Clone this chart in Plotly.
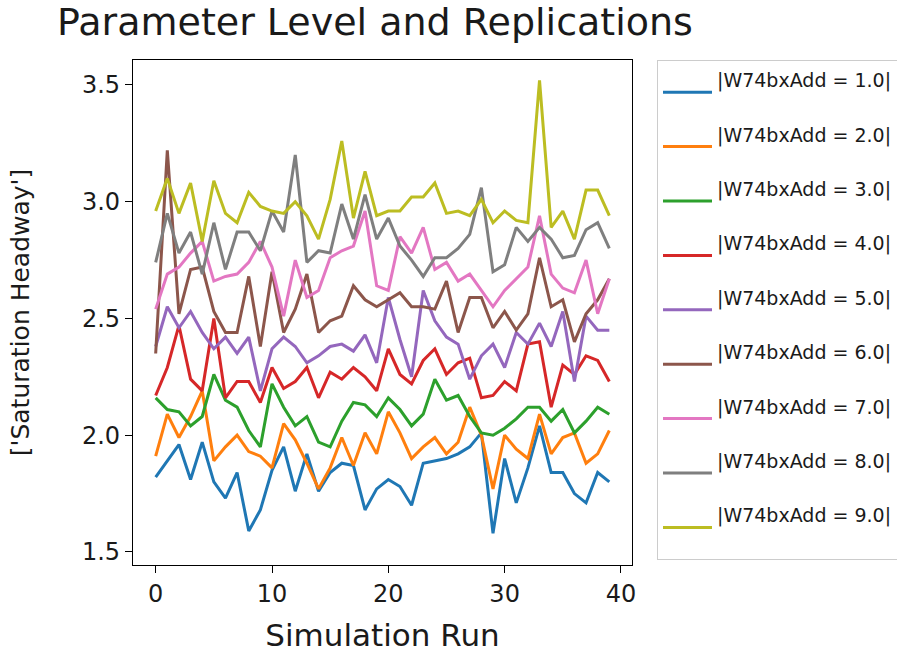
import plotly.graph_objects as go

# Simulation run index (replications)
runs = list(range(40))

# Parameter levels for W74bxAdd
levels = [1.0, 2.0, 3.0, 4.0, 5.0, 6.0, 7.0, 8.0, 9.0]

# Saturation headway per run, one list per parameter level
headway_1 = [1.82, 1.89, 1.96, 1.81, 1.97, 1.80, 1.73, 1.84, 1.59, 1.68,
             1.85, 1.95, 1.76, 1.92, 1.76, 1.84, 1.88, 1.87, 1.68, 1.77,
             1.81, 1.78, 1.70, 1.88, 1.89, 1.90, 1.92, 1.95, 2.01, 1.58,
             1.90, 1.71, 1.86, 2.04, 1.84, 1.84, 1.75, 1.71, 1.84, 1.80]
headway_2 = [1.91, 2.09, 1.99, 2.08, 2.19, 1.89, 1.95, 2.00, 1.93, 1.91,
             1.86, 2.05, 1.98, 1.88, 1.77, 1.86, 1.99, 1.87, 2.01, 1.92,
             2.10, 2.01, 1.90, 1.95, 1.99, 1.92, 1.97, 2.12, 2.00, 1.77,
             2.00, 1.94, 1.90, 2.09, 1.92, 1.99, 2.01, 1.88, 1.92, 2.02]
headway_3 = [2.16, 2.11, 2.10, 2.04, 2.08, 2.26, 2.15, 2.12, 2.02, 1.95,
             2.22, 2.12, 2.04, 2.08, 1.97, 1.95, 2.06, 2.14, 2.13, 2.08,
             2.16, 2.11, 2.04, 2.09, 2.24, 2.15, 2.17, 2.08, 2.01, 2.00,
             2.03, 2.07, 2.12, 2.12, 2.06, 2.11, 2.01, 2.06, 2.12, 2.09]
headway_4 = [2.17, 2.29, 2.47, 2.24, 2.19, 2.50, 2.16, 2.23, 2.23, 2.14,
             2.29, 2.20, 2.23, 2.29, 2.16, 2.27, 2.24, 2.29, 2.25, 2.19,
             2.37, 2.26, 2.22, 2.32, 2.37, 2.26, 2.31, 2.33, 2.16, 2.17,
             2.23, 2.19, 2.39, 2.40, 2.12, 2.30, 2.26, 2.34, 2.32, 2.23]
headway_5 = [2.38, 2.55, 2.46, 2.53, 2.44, 2.37, 2.42, 2.35, 2.42, 2.19,
             2.37, 2.42, 2.38, 2.31, 2.34, 2.38, 2.39, 2.36, 2.43, 2.31,
             2.59, 2.41, 2.25, 2.62, 2.49, 2.42, 2.39, 2.24, 2.34, 2.39,
             2.29, 2.44, 2.39, 2.48, 2.38, 2.53, 2.23, 2.51, 2.45, 2.45]
headway_6 = [2.35, 3.22, 2.52, 2.71, 2.72, 2.53, 2.44, 2.44, 2.68, 2.38,
             2.70, 2.44, 2.54, 2.69, 2.44, 2.49, 2.51, 2.64, 2.58, 2.55,
             2.58, 2.61, 2.55, 2.55, 2.54, 2.66, 2.44, 2.59, 2.59, 2.46,
             2.53, 2.45, 2.52, 2.76, 2.55, 2.58, 2.40, 2.52, 2.58, 2.67]
headway_7 = [2.54, 2.69, 2.72, 2.78, 2.83, 2.66, 2.68, 2.69, 2.74, 2.83,
             2.72, 2.51, 2.75, 2.59, 2.62, 2.76, 2.79, 2.81, 2.96, 2.64,
             2.62, 2.85, 2.78, 2.89, 2.71, 2.74, 2.66, 2.69, 2.62, 2.55,
             2.62, 2.67, 2.72, 2.94, 2.69, 2.63, 2.61, 2.75, 2.52, 2.67]
headway_8 = [2.74, 2.95, 2.78, 2.87, 2.69, 2.91, 2.71, 2.87, 2.87, 2.79,
             2.96, 2.87, 3.20, 2.74, 2.79, 2.78, 2.99, 2.84, 3.03, 2.84,
             2.93, 2.81, 2.75, 2.68, 2.76, 2.76, 2.80, 2.86, 3.06, 2.70,
             2.73, 2.89, 2.83, 2.89, 2.84, 2.76, 2.77, 2.88, 2.91, 2.80]
headway_9 = [2.96, 3.10, 2.95, 3.08, 2.83, 3.09, 2.95, 2.91, 3.04, 2.98,
             2.96, 2.95, 3.00, 2.94, 2.84, 3.01, 3.26, 2.93, 3.13, 2.94,
             2.96, 2.96, 3.02, 3.02, 3.08, 2.95, 2.96, 2.94, 3.01, 2.91,
             2.96, 2.92, 2.91, 3.52, 2.89, 2.96, 2.84, 3.05, 3.05, 2.94]

series = [headway_1, headway_2, headway_3, headway_4, headway_5,
          headway_6, headway_7, headway_8, headway_9]

# Axis ticks
x_ticks = [0, 10, 20, 30, 40]
y_ticks = [1.5, 2.0, 2.5, 3.0, 3.5]

colors = ["#1f77b4", "#ff7f0e", "#2ca02c", "#d62728", "#9467bd",
          "#8c564b", "#e377c2", "#7f7f7f", "#bcbd22"]

FONT = "DejaVu Sans"
INK = "#1a1a1a"

fig = go.Figure()
for level, values, color in zip(levels, series, colors):
    label = f"|W74bxAdd = {level:.1f}|"
    fig.add_trace(go.Scatter(
        x=runs, y=values, mode="lines",
        name=label + "<br> ", legendgroup=label,
        line=dict(color=color, width=3),
    ))

axis_common = dict(
    showgrid=False, zeroline=False,
    showline=True, mirror=True, linecolor="black", linewidth=1.3,
    ticks="outside", ticklen=7, tickwidth=1.3, tickcolor="black",
    tickfont=dict(family=FONT, size=24, color=INK),
)

fig.update_layout(
    width=897, height=653,
    margin=dict(l=133, r=265, t=60, b=88, autoexpand=False),
    paper_bgcolor="white", plot_bgcolor="white",
    font=dict(family=FONT, color=INK),
    title=dict(
        text="Parameter Level and Replications",
        font=dict(family=FONT, size=38, color=INK),
        x=(375 - 133) / 499, xref="paper", xanchor="center",
        y=1 - 22 / 653, yref="container", yanchor="middle",
    ),
    xaxis=dict(
        range=[-1.95, 40.95], tickvals=x_ticks,
        title=dict(text="Simulation Run", standoff=20,
                   font=dict(family=FONT, size=31, color=INK)),
        **axis_common,
    ),
    yaxis=dict(
        range=[1.444, 3.607], tickvals=y_ticks, tickformat=".1f",
        title=dict(text="['Saturation Headway']", standoff=45,
                   font=dict(family=FONT, size=25, color=INK)),
        **axis_common,
    ),
    legend=dict(
        x=(657 - 133) / 499, xref="paper", xanchor="left",
        y=1, yanchor="top",
        bgcolor="white", bordercolor="#cccccc", borderwidth=1,
        font=dict(family=FONT, size=19, color=INK),
        valign="middle", itemwidth=49,
        traceorder="grouped", tracegroupgap=2,
    ),
)

fig.write_html("out.html")
